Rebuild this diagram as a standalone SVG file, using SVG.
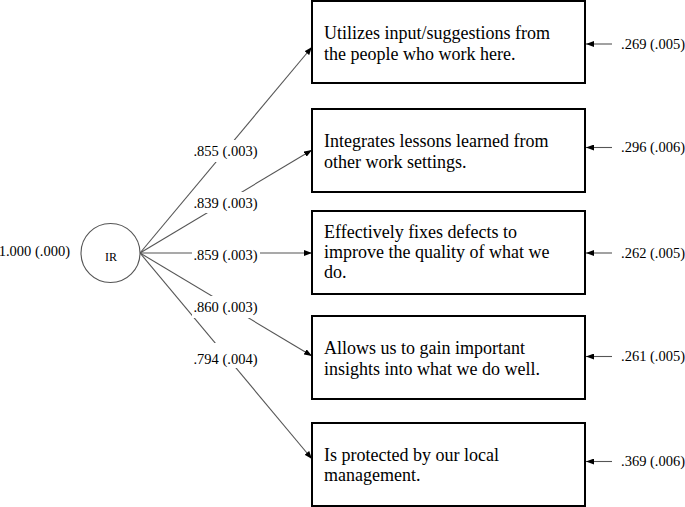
<svg xmlns="http://www.w3.org/2000/svg" width="685" height="507" viewBox="0 0 685 507">
<defs>
<style>
.box{fill:#fff;stroke:#000;stroke-width:2}
.bt{font-family:"Liberation Serif","Times New Roman",serif;font-size:18px;fill:#000}
.lbl{font-family:"Liberation Serif","Times New Roman",serif;font-size:14.5px;fill:#000}
.conn{stroke:#555;stroke-width:1.1;fill:none;marker-end:url(#ah)}
.bg{fill:#fff}
</style>
<marker id="ah" viewBox="0 0 8 6" refX="8" refY="3" markerWidth="8" markerHeight="6" markerUnits="userSpaceOnUse" orient="auto">
<path d="M0,0 L8,3 L0,6 Z" fill="#000"/>
</marker>
</defs>
<rect width="685" height="507" fill="#fff"/>

<g id="connectors">
<line class="conn" x1="140" y1="253" x2="312" y2="47"/>
<line class="conn" x1="140" y1="253" x2="312" y2="150"/>
<line class="conn" x1="140" y1="253" x2="312" y2="253"/>
<line class="conn" x1="140" y1="253" x2="312" y2="356"/>
<line class="conn" x1="140" y1="253" x2="312" y2="459"/>
<line class="conn" x1="612" y1="44" x2="586" y2="44"/>
<line class="conn" x1="612" y1="147.5" x2="586" y2="147.5"/>
<line class="conn" x1="612" y1="253" x2="586" y2="253"/>
<line class="conn" x1="612" y1="356.5" x2="586" y2="356.5"/>
<line class="conn" x1="612" y1="461.5" x2="586" y2="461.5"/>
</g>

<g id="loading-labels">
<rect class="bg" x="192" y="140" width="68" height="22"/>
<text class="lbl" x="225.5" y="156" text-anchor="middle">.855 (.003)</text>
<rect class="bg" x="192" y="192" width="68" height="21"/>
<text class="lbl" x="225.5" y="207.5" text-anchor="middle">.839 (.003)</text>
<rect class="bg" x="192" y="245" width="68" height="20"/>
<text class="lbl" x="225.5" y="260" text-anchor="middle">.859 (.003)</text>
<rect class="bg" x="192" y="296" width="68" height="22"/>
<text class="lbl" x="225.5" y="312" text-anchor="middle">.860 (.003)</text>
<rect class="bg" x="192" y="343" width="68" height="25"/>
<text class="lbl" x="225.5" y="364" text-anchor="middle">.794 (.004)</text>
</g>

<g id="node-IR">
<circle cx="110.5" cy="253" r="29.5" fill="#fff" stroke="#555" stroke-width="1.1"/>
<text x="111" y="260.5" text-anchor="middle" font-family="Liberation Serif, Times New Roman, serif" font-size="12">IR</text>
<text class="lbl" x="70" y="256" text-anchor="end">1.000 (.000)</text>
</g>

<g id="node-item1">
<rect class="box" x="312" y="1" width="273" height="82"/>
<text class="bt" x="324" y="39">Utilizes input/suggestions from</text>
<text class="bt" x="324" y="59.5">the people who work here.</text>
<text class="lbl" x="621" y="48.5">.269 (.005)</text>
</g>

<g id="node-item2">
<rect class="box" x="312" y="109" width="273" height="83"/>
<text class="bt" x="324" y="147">Integrates lessons learned from</text>
<text class="bt" x="324" y="168">other work settings.</text>
<text class="lbl" x="621" y="152">.296 (.006)</text>
</g>

<g id="node-item3">
<rect class="box" x="312" y="211" width="273" height="83"/>
<text class="bt" x="324" y="238">Effectively fixes defects to</text>
<text class="bt" x="324" y="258">improve the quality of what we</text>
<text class="bt" x="324" y="278">do.</text>
<text class="lbl" x="621" y="257.5">.262 (.005)</text>
</g>

<g id="node-item4">
<rect class="box" x="312" y="316" width="273" height="83"/>
<text class="bt" x="324" y="354">Allows us to gain important</text>
<text class="bt" x="324" y="375">insights into what we do well.</text>
<text class="lbl" x="621" y="361">.261 (.005)</text>
</g>

<g id="node-item5">
<rect class="box" x="312" y="423" width="273" height="83"/>
<text class="bt" x="324" y="461">Is protected by our local</text>
<text class="bt" x="324" y="481">management.</text>
<text class="lbl" x="621" y="466">.369 (.006)</text>
</g>
</svg>
